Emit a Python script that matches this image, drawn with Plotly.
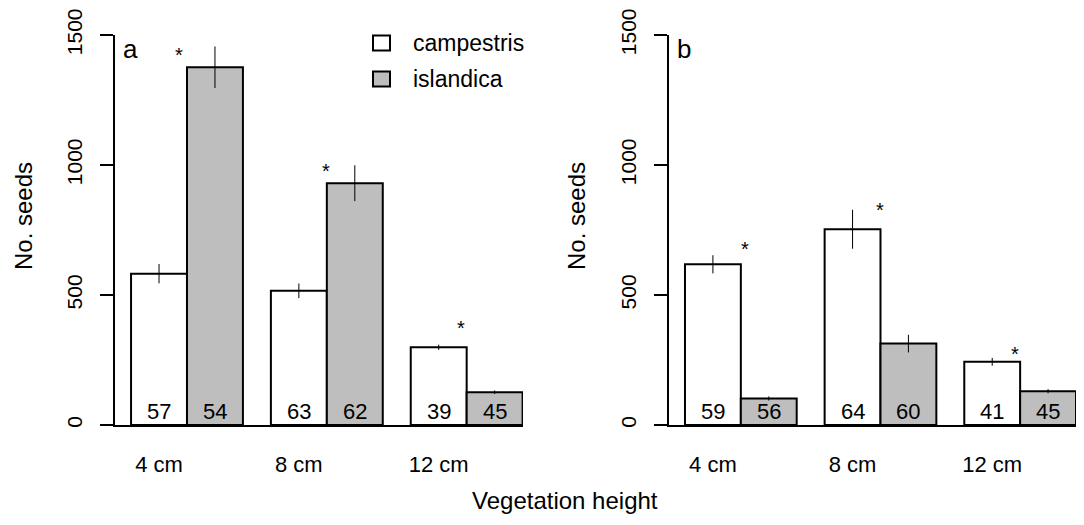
import plotly.graph_objects as go

# ---------------- data ----------------
categories = ["4 cm", "8 cm", "12 cm"]
species = ["campestris", "islandica"]

# panel a
a_campestris = [582, 516, 299]
a_campestris_se = [37, 28, 10]
a_islandica = [1376, 930, 126]
a_islandica_se = [80, 69, 7]
a_n_campestris = ["57", "63", "39"]
a_n_islandica = ["54", "62", "45"]
a_star_height = [1439, 992, 388]

# panel b
b_campestris = [618, 753, 243]
b_campestris_se = [35, 75, 15]
b_islandica = [102, 313, 130]
b_islandica_se = [8, 34, 8]
b_n_campestris = ["59", "64", "41"]
b_n_islandica = ["56", "60", "45"]
b_star_height = [694, 842, 289]

y_ticks = [0, 500, 1000, 1500]

# ---------------- layout helpers ----------------
W, H = 1084, 525
FONT = "Liberation Sans, Arial, sans-serif"
GREY = "#BEBEBE"
GROUP_STEP = 2.5  # bar units between groups


def px_x(p):
    return p / W


def px_y(p):
    return 1 - p / H


fig = go.Figure()

panels = [
    dict(xa="x", ya="y", camp=a_campestris, camp_se=a_campestris_se,
         isl=a_islandica, isl_se=a_islandica_se,
         n_c=a_n_campestris, n_i=a_n_islandica, stars=a_star_height,
         star_off=[0.36, 0.48, 0.39], letter="a",
         dom=(115, 523), rng=(-0.787, 6.507)),
    dict(xa="x2", ya="y2", camp=b_campestris, camp_se=b_campestris_se,
         isl=b_islandica, isl_se=b_islandica_se,
         n_c=b_n_campestris, n_i=b_n_islandica, stars=b_star_height,
         star_off=[0.575, 0.497, 0.40], letter="b",
         dom=(669, 1076), rng=(-0.786, 6.50)),
]

annotations = []
for p in panels:
    xc = [i * GROUP_STEP for i in range(len(categories))]
    xi = [v + 1 for v in xc]
    fig.add_trace(go.Bar(
        x=xc, y=p["camp"], width=1, name=species[0], showlegend=False,
        marker=dict(color="white", line=dict(color="black", width=2)),
        error_y=dict(type="data", array=p["camp_se"], visible=True,
                     color="black", thickness=1, width=0),
        xaxis=p["xa"], yaxis=p["ya"]))
    fig.add_trace(go.Bar(
        x=xi, y=p["isl"], width=1, name=species[1], showlegend=False,
        marker=dict(color=GREY, line=dict(color="black", width=2)),
        error_y=dict(type="data", array=p["isl_se"], visible=True,
                     color="black", thickness=1, width=0),
        xaxis=p["xa"], yaxis=p["ya"]))
    # sample sizes inside bars
    for xs, labels in ((xc, p["n_c"]), (xi, p["n_i"])):
        for x, t in zip(xs, labels):
            annotations.append(dict(
                x=x, y=0, xref=p["xa"], yref=p["ya"], text=t, showarrow=False,
                yanchor="middle", yshift=14, font=dict(size=22, color="black", family=FONT)))
    # significance stars
    for x, off, h in zip(xc, p["star_off"], p["stars"]):
        annotations.append(dict(
            x=x + off, y=h, xref=p["xa"], yref=p["ya"], text="*", showarrow=False,
            yanchor="middle", yshift=-4, font=dict(size=20, color="black", family=FONT)))
    # panel letter
    annotations.append(dict(
        x=px_x(p["dom"][0] + 6), y=px_y(49), xref="paper", yref="paper",
        text=p["letter"], showarrow=False, xanchor="left", yanchor="middle",
        font=dict(size=26, color="black", family=FONT)))

# y axis titles
for xc_px in (23, 576):
    annotations.append(dict(
        x=px_x(xc_px), y=px_y(216), xref="paper", yref="paper", text="No. seeds",
        showarrow=False, textangle=-90, xanchor="center", yanchor="middle",
        font=dict(size=24, color="black", family=FONT)))

# x title
annotations.append(dict(
    x=px_x(565), y=px_y(500), xref="paper", yref="paper", text="Vegetation height",
    showarrow=False, xanchor="center", yanchor="middle",
    font=dict(size=24, color="black", family=FONT)))

# legend (drawn manually to match R style)
shapes = []
legend_fill = ["white", GREY]
legend_rows = [43, 79]
for name, fill, yc in zip(species, legend_fill, legend_rows):
    shapes.append(dict(type="rect", xref="paper", yref="paper",
                       x0=px_x(373), x1=px_x(390), y0=px_y(yc + 7.5), y1=px_y(yc - 7.5),
                       fillcolor=fill, line=dict(color="black", width=2)))
    annotations.append(dict(
        x=px_x(411), y=px_y(yc), xref="paper", yref="paper", text=name,
        showarrow=False, xanchor="left", yanchor="middle",
        font=dict(size=23, color="black", family=FONT)))

y_dom = [px_y(425), px_y(35)]
common_x = dict(showgrid=False, zeroline=False, showline=True, linecolor="black",
                linewidth=2, ticks="", tickfont=dict(size=22, color="black", family=FONT),
                ticklabelstandoff=19, fixedrange=True, automargin=False)
common_y = dict(showgrid=False, zeroline=False, showline=True, linecolor="black",
                linewidth=2, ticks="outside", ticklen=13, tickwidth=2, tickcolor="black",
                tickvals=y_ticks, ticktext=[str(v) for v in y_ticks], tickangle=-90,
                tickfont=dict(size=21, color="black", family=FONT), ticklabelstandoff=10,
                range=[0, 1500], domain=y_dom, fixedrange=True, automargin=False)

cat_pos = [i * GROUP_STEP for i in range(len(categories))]
fig.update_layout(
    template="none",
    width=W, height=H, autosize=False,
    margin=dict(l=0, r=0, t=0, b=0, pad=0, autoexpand=False),
    paper_bgcolor="white", plot_bgcolor="white",
    barmode="overlay", showlegend=False,
    font=dict(family=FONT, color="black"),
    xaxis=dict(common_x, domain=[px_x(panels[0]["dom"][0]), px_x(panels[0]["dom"][1])],
               range=list(panels[0]["rng"]), tickvals=cat_pos, ticktext=categories,
               anchor="y"),
    yaxis=dict(common_y, anchor="x"),
    xaxis2=dict(common_x, domain=[px_x(panels[1]["dom"][0]), px_x(panels[1]["dom"][1])],
                range=list(panels[1]["rng"]), tickvals=cat_pos, ticktext=categories,
                anchor="y2"),
    yaxis2=dict(common_y, anchor="x2"),
    annotations=annotations,
    shapes=shapes,
)

fig.write_html("out.html", config={"displayModeBar": False},
               post_script="document.body.style.margin='0';document.body.style.overflow='hidden';")
